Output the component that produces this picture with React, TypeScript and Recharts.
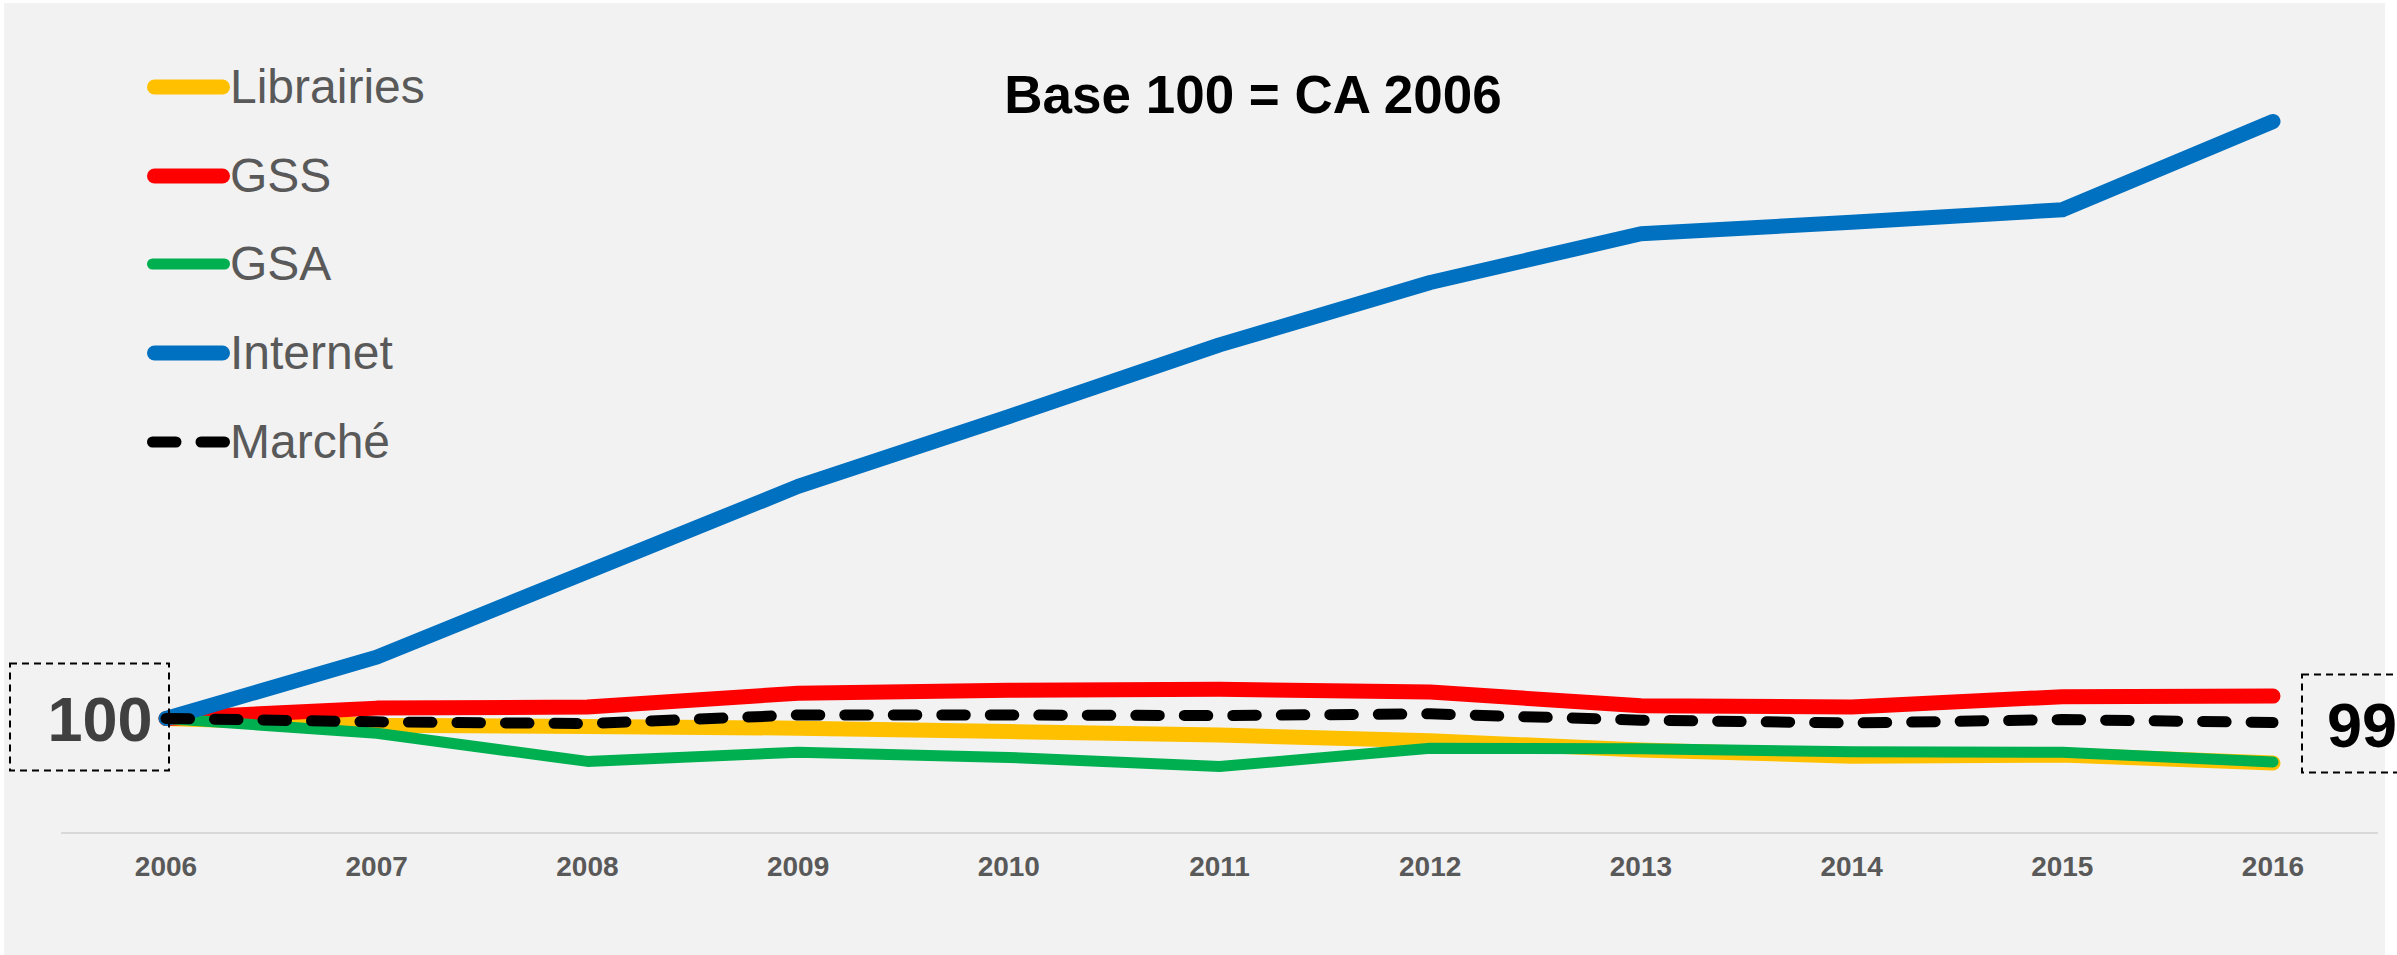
import React from "react";
import { LabelList, Legend, Line, LineChart, XAxis, YAxis } from "recharts";

const years = ["2006", "2007", "2008", "2009", "2010", "2011", "2012", "2013", "2014", "2015", "2016"];
const librairies = [100, 98.8, 98.6, 98.3, 97.7, 97.1, 96.1, 94.5, 93.4, 93.6, 92.2];
const gss = [100, 101.8, 102.0, 104.4, 104.9, 105.1, 104.6, 102.2, 102.0, 103.8, 103.9];
const gsa = [100, 97.4, 92.5, 94.1, 93.2, 91.6, 94.8, 94.7, 94.2, 94.1, 92.4];
const internet = [100, 110.7, 125.6, 140.5, 152.7, 165.2, 176.1, 184.6, 186.6, 188.8, 204.2];
const marche = [100, 99.4, 99.1, 100.6, 100.6, 100.5, 100.8, 99.7, 99.2, 99.8, 99.3];

const data = years.map((year, i) => ({
  year,
  Librairies: librairies[i],
  GSS: gss[i],
  GSA: gsa[i],
  Internet: internet[i],
  "Marché": marche[i],
}));

const FONT = '"Liberation Sans", Arial, sans-serif';

const series = [
  { key: "Librairies", color: "#FFC000", width: 15 },
  { key: "GSS", color: "#FF0000", width: 15 },
  { key: "GSA", color: "#00B050", width: 11 },
  { key: "Internet", color: "#0070C0", width: 15 },
  { key: "Marché", color: "#000000", width: 11, dash: "23.5 25" },
];

// dashed boxes with the start / end value of the market line
function EndLabel(props: any) {
  const { index, value } = props;
  const x = typeof props.x === "number" ? props.x : props.viewBox?.x;
  const y = typeof props.y === "number" ? props.y : props.viewBox?.y;
  if (x == null || y == null) return null;
  if (index === 0) {
    return (
      <g>
        <rect x={x - 156} y={y - 55} width={159} height={107} fill="none" stroke="#000" strokeWidth={2} strokeDasharray="7 5" />
        <text x={x - 66} y={y + 22.5} textAnchor="middle" fontFamily={FONT} fontWeight="bold" fontSize={63} fill="#404040">
          {Math.round(value)}
        </text>
      </g>
    );
  }
  if (index === years.length - 1) {
    return (
      <g>
        <rect x={x + 29} y={y - 48} width={150} height={98} fill="none" stroke="#000" strokeWidth={2} strokeDasharray="7 5" />
        <text x={x + 54} y={y + 25} textAnchor="start" fontFamily={FONT} fontWeight="bold" fontSize={63} fill="#000">
          {Math.round(value)}
        </text>
      </g>
    );
  }
  return null;
}

function LegendContent() {
  return (
    <div>
      {series.map((s) => (
        <div key={s.key} style={{ display: "flex", alignItems: "center", height: 88.75 }}>
          <svg width={83} height={20} style={{ display: "block" }}>
            <line
              x1={s.width / 2}
              y1={10}
              x2={83 - s.width / 2}
              y2={10}
              stroke={s.color}
              strokeWidth={s.width}
              strokeLinecap="round"
              strokeDasharray={s.dash}
            />
          </svg>
          <span style={{ fontFamily: FONT, fontSize: 48, color: "#595959", lineHeight: 1, whiteSpace: "nowrap" }}>
            {s.key}
          </span>
        </div>
      ))}
    </div>
  );
}

export default function App() {
  return (
    <div style={{ position: "absolute", left: 0, top: 0, width: 2397, height: 955, background: "#fff" }}>
      <div style={{ position: "absolute", left: 4, top: 3, width: 2381, height: 952, background: "#f2f2f2" }} />
      <div
        style={{
          position: "absolute",
          left: 1253,
          top: 93.5,
          transform: "translate(-50%, -50%)",
          fontFamily: FONT,
          fontWeight: "bold",
          fontSize: 53,
          lineHeight: 1,
          color: "#000",
          whiteSpace: "nowrap",
          zIndex: 2,
        }}
      >
        Base 100 = CA 2006
      </div>
      <div style={{ position: "absolute", left: 0, top: 0 }}>
        <LineChart width={2397} height={955} data={data} margin={{ top: 31, right: 19, bottom: 62, left: 61 }}>
          <XAxis
            dataKey="year"
            height={60}
            interval={0}
            padding={{ left: 105, right: 105 }}
            axisLine={{ stroke: "#d9d9d9", strokeWidth: 2 }}
            tickLine={false}
            tickSize={0}
            tickMargin={23}
            tick={{ fill: "#595959", fontSize: 28, fontWeight: "bold", fontFamily: FONT }}
          />
          <YAxis hide type="number" domain={[80, 220]} />
          <Legend
            layout="vertical"
            align="center"
            verticalAlign="middle"
            wrapperStyle={{ left: 147, top: 42.6, width: "auto" }}
            content={<LegendContent />}
          />
          {series.map((s) => (
            <Line
              key={s.key}
              type="linear"
              dataKey={s.key}
              stroke={s.color}
              strokeWidth={s.width}
              strokeDasharray={s.dash}
              strokeLinecap="round"
              strokeLinejoin="round"
              dot={false}
              activeDot={false}
              isAnimationActive={false}
            >
              {s.key === "Marché" ? <LabelList dataKey={s.key} content={<EndLabel />} /> : null}
            </Line>
          ))}
        </LineChart>
      </div>
    </div>
  );
}
